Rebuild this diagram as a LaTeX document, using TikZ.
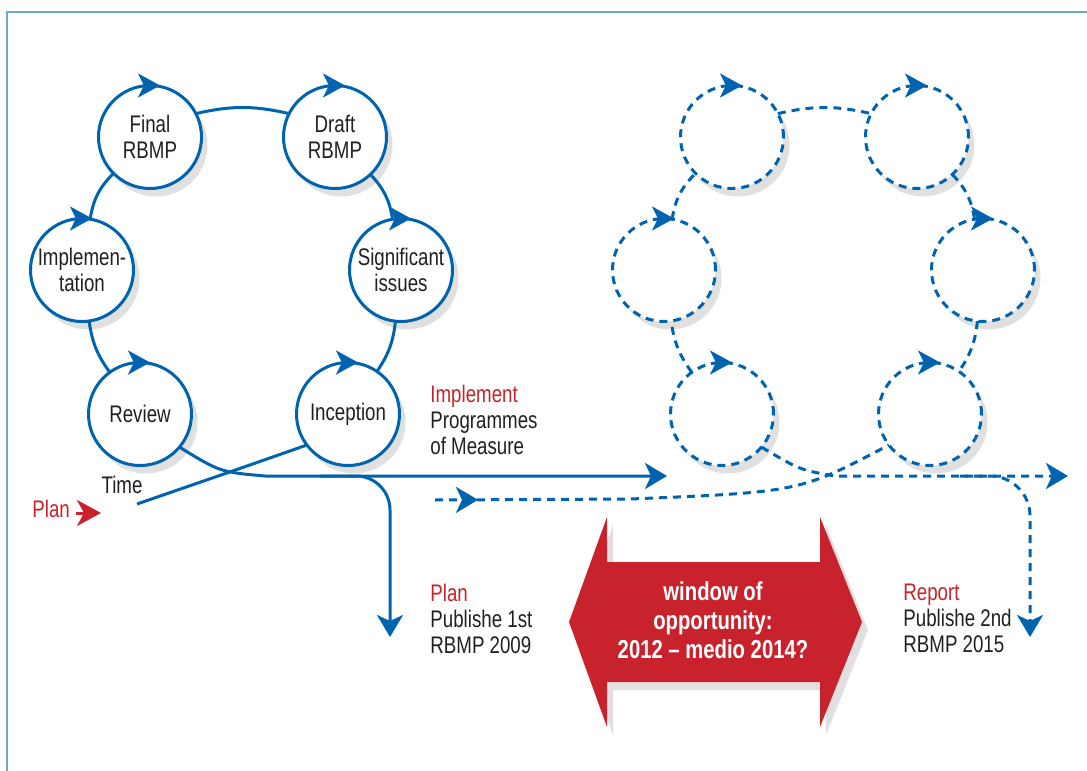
\documentclass[tikz,border=0pt]{standalone}
\usepackage{fontspec}
\setmainfont{Liberation Sans}[FakeStretch=0.78]
\usepackage{tikz}
\usetikzlibrary{positioning, arrows.meta, shadows, decorations.markings, calc}
\definecolor{rbmpblue}{RGB}{0,99,175}
\definecolor{rbmpred}{RGB}{200,34,44}
\definecolor{frameblue}{RGB}{110,165,215}
\definecolor{textgray}{RGB}{35,31,32}

\begin{document}
\begin{tikzpicture}[x=0.5pt, y=-0.5pt, every node/.style={font=\fontsize{12}{13}\selectfont, text=textgray}]
		\tikzstyle{ring}=[circle, draw=rbmpblue, line width=1.5pt, fill=white, minimum size=51.5pt, inner sep=0pt, outer sep=0pt, align=center, drop shadow={shadow xshift=3pt, shadow yshift=-4pt, fill=black!12, opacity=1}]
		\tikzstyle{dring}=[ring, dash pattern=on 4pt off 3pt]
		\tikzstyle{ringline}=[rbmpblue, line width=1.5pt]
		\tikzstyle{dringline}=[ringline, dash pattern=on 4pt off 3pt]
		\tikzstyle{toparrow}=[rbmpblue, line width=1.5pt, -{Stealth[length=11pt, width=12pt, inset=3pt]}]
		\tikzstyle{flow}=[ringline, -{Stealth[length=11pt, width=13pt, inset=3pt]}]
		\tikzstyle{dflow}=[dringline, -{Stealth[length=11pt, width=13pt, inset=3pt]}]
		\tikzstyle{notes}=[anchor=north west, inner sep=0pt, align=left]
		
		\useasboundingbox (0,0) rectangle (1087,771);
		%% frame
		\draw[frameblue, line width=0.75pt] (7,771) -- (7,12) -- (1087,12);
		
		%% first cycle
		\node[ring] (final) at (150,137) {Final\\RBMP};
		\node[ring] (draft) at (335,137) {Draft\\RBMP};
		\node[ring] (impl) at (82,270) {Implemen-\\tation};
		\node[ring] (sig) at (401,270) {Significant\\issues};
		\node[ring] (review) at (140,414) {Review};
		\node[ring] (incep) at (348,414) {Inception};
		
		\draw[ringline] (final.27) to[bend left=13] (draft.153);
		\draw[ringline] (draft) to[bend left=17] (sig);
		\draw[ringline] (sig) to[bend left=14] (incep);
		\draw[ringline] (impl) to[bend left=18] (final);
		\draw[ringline] (review) to[bend left=14] (impl);
		
		%% second cycle
		\node[dring, right=239.5pt of final] (final2) {};
		\node[dring, right=239.5pt of draft] (draft2) {};
		\node[dring, right=239.5pt of impl] (impl2) {};
		\node[dring, right=239.5pt of sig] (sig2) {};
		\node[dring, right=239.5pt of review] (review2) {};
		\node[dring, right=239.5pt of incep] (incep2) {};
		
		\draw[dringline] (final2.27) to[bend left=13] (draft2.153);
		\draw[dringline] (draft2) to[bend left=17] (sig2);
		\draw[dringline] (sig2) to[bend left=14] (incep2);
		\draw[dringline] (impl2) to[bend left=18] (final2);
		\draw[dringline] (review2) to[bend left=14] (impl2);
		
		\foreach \n in {final,draft,impl,sig,review,incep,final2,draft2,impl2,sig2,review2,incep2}
		\draw[toparrow] ([xshift=-3pt]\n.north) -- ([xshift=5pt]\n.north);
		
		%% time lines
		\coordinate (flowend) at (667,476);
		\coordinate (plan1end) at (390,637);
		\coordinate (timeend) at (137,504);
		\draw[flow] (review.-40) .. controls (220,472) .. (265,476) -- (flowend);
		\draw[flow, rounded corners=17pt] (320,476) -- (390,476) -- (plan1end);
		\draw[ringline] (incep.217) .. controls (250,465) .. (timeend);
		
		\coordinate (flow2end) at (1068,476);
		\coordinate (report2end) at (1030,637);
		\coordinate (dstart) at (435,500);
		\draw[dflow] (review2.-40) .. controls (800,470) .. (835,476) -- (flow2end);
		\draw[dflow, rounded corners=20pt] (960,476) -- (1030,476) -- (report2end);
		\draw[dringline, postaction={decorate}, decoration={markings, mark=at position 21.5pt with {\arrow{Stealth[length=11pt, width=13pt, inset=3pt]}}}] (dstart) -- (630,499) .. controls (800,492) .. (incep2.217);
		
		%% labels
		\node[anchor=base] (time) at (122,493) {Time};
		\node[anchor=base west, inner sep=0pt, text=rbmpred] (planlbl) at (32,517) {Plan};
		\coordinate (plantip) at (101,513);
		\draw[rbmpred, line width=1.5pt, -{Stealth[length=12pt, width=13pt, inset=3.5pt]}] ([xshift=3pt]planlbl.east |- plantip) -- (plantip);
		
		\node[notes] (implnote) at (430,385) {\textcolor{rbmpred}{Implement}\\Programmes\\of Measure};
		\node[notes] (plannote) at (430,584) {\textcolor{rbmpred}{Plan}\\Publishe 1st\\RBMP 2009};
		\node[notes] (reportnote) at (903,584) {\textcolor{rbmpred}{Report}\\Publishe 2nd\\RBMP 2015};
		
		%% window of opportunity
		\fill[rbmpred, drop shadow={shadow xshift=3pt, shadow yshift=-4pt, fill=black!12, opacity=1}] (569,622) -- (607,517) -- (607,562) -- (820,562) -- (820,517) -- (862,622) -- (820,727) -- (820,682) -- (607,682) -- (607,727) -- cycle;
		\node[font=\fontsize{13}{14.5}\selectfont\bfseries, text=white, align=center] (window) at (713,620) {window of\\opportunity:\\2012 -- medio 2014?};
\end{tikzpicture}
\end{document}
